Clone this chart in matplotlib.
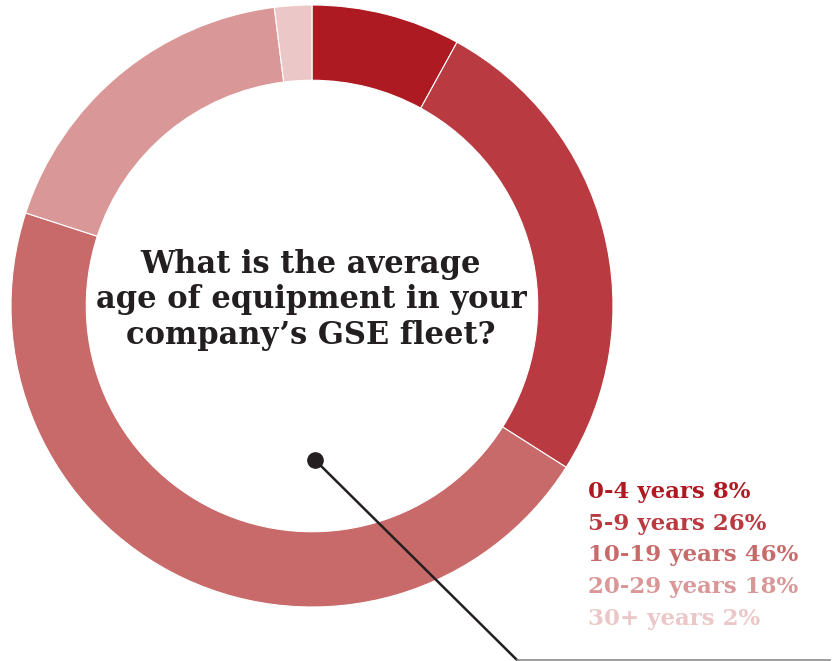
import matplotlib.pyplot as plt

# data
labels = ['0-4 years', '5-9 years', '10-19 years', '20-29 years', '30+ years']
shares = [8, 26, 46, 18, 2]
colors = ['#ad1a21', '#b93a41', '#c8696a', '#d99797', '#ecc7c7']
question = 'What is the average\nage of equipment in your\ncompany\u2019s GSE fleet?'

W, H = 837, 661
fig = plt.figure(figsize=(W / 100, H / 100), dpi=100)
ax = fig.add_axes([0, 0, 1, 1])

cx, cy, r = 312, H - 306, 301
ax.pie(shares, colors=colors, startangle=90, counterclock=False,
       center=(cx, cy), radius=r, frame=True,
       wedgeprops=dict(width=r * 0.25, edgecolor='white', linewidth=0.8))
ax.set_xlim(0, W)
ax.set_ylim(0, H)
ax.set_aspect('equal')
ax.axis('off')

ax.text(cx - 1, H - 300, question, ha='center', va='center',
        family='DejaVu Serif', fontweight='bold', fontsize=22,
        color='#231f20', linespacing=1.17)

# pointer from the question down to the legend
ax.plot([315, 517], [H - 460, H - 660], color='#231f20', lw=1.8, zorder=5)
ax.plot([517, 830], [H - 660, H - 660], color='#8c8c8c', lw=1.2, zorder=5)
ax.plot([315], [H - 460], 'o', color='#231f20', ms=11, zorder=6)

for i, (lab, val, col) in enumerate(zip(labels, shares, colors)):
    ax.text(588, H - 492 - i * 31.7, f'{lab} {val}%', ha='left', va='center',
            family='DejaVu Serif', fontweight='bold', fontsize=16.5, color=col)

plt.savefig('out.png', dpi=100)
